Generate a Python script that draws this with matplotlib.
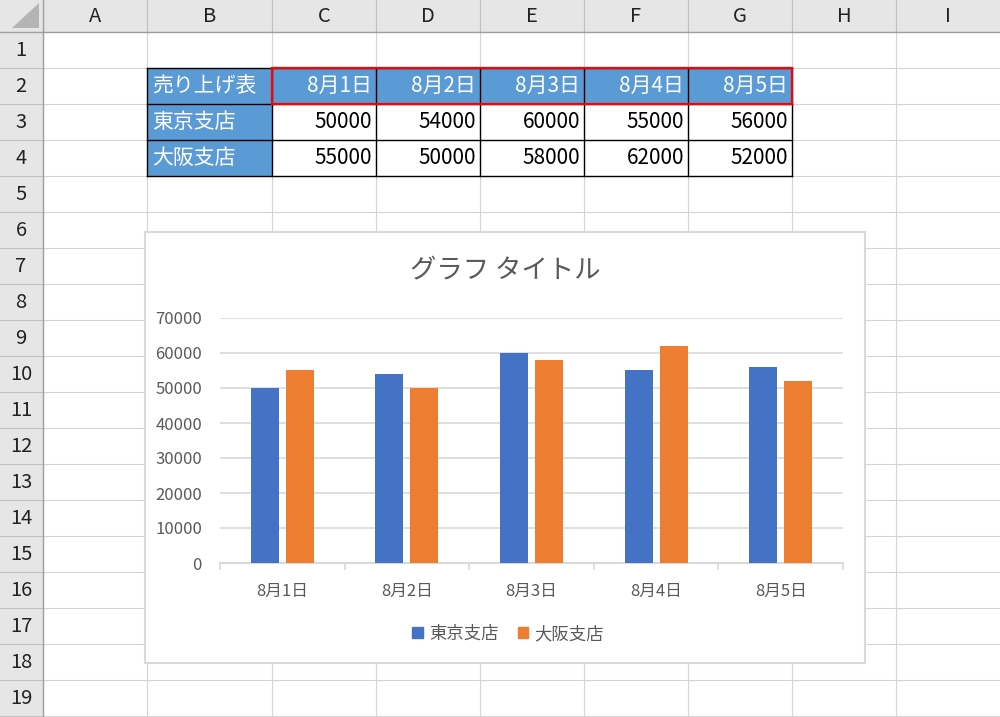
import matplotlib
matplotlib.use("Agg")
import matplotlib.pyplot as plt
from matplotlib.patches import Rectangle, Polygon, Patch

plt.rcParams['font.family'] = ['Noto Sans CJK JP', 'DejaVu Sans']

# data
dates = ['8月1日', '8月2日', '8月3日', '8月4日', '8月5日']
tokyo = [50000, 54000, 60000, 55000, 56000]
osaka = [55000, 50000, 58000, 62000, 52000]
stores = ['東京支店', '大阪支店']
table_title = '売り上げ表'
chart_title = 'グラフ タイトル'
y_ticks = [0, 10000, 20000, 30000, 40000, 50000, 60000, 70000]

col_letters = ['A', 'B', 'C', 'D', 'E', 'F', 'G', 'H', 'I']
col_edges = [43, 147, 272, 376, 480, 584, 688, 792, 896, 1000]
row_edges = [32 + 36 * i for i in range(20)]

blue = '#4472C4'
orange = '#ED7D31'
cell_blue = '#5B9BD5'
grey_txt = '#595959'

fig = plt.figure(figsize=(10, 7.17), dpi=100)
bg = fig.add_axes([0, 0, 1, 1])
bg.set_xlim(0, 1000)
bg.set_ylim(717, 0)
bg.axis('off')

# sheet grid
for x in col_edges[1:-1]:
    bg.plot([x, x], [32, 717], color='#D4D4D4', lw=0.8, zorder=1)
for y in row_edges[1:]:
    bg.plot([43, 1000], [y, y], color='#D4D4D4', lw=0.8, zorder=1)

# headers
bg.add_patch(Rectangle((0, 0), 1000, 32, fc='#E6E6E6', ec='none', zorder=2))
bg.add_patch(Rectangle((0, 0), 43, 717, fc='#E6E6E6', ec='none', zorder=2))
for x in col_edges[1:-1]:
    bg.plot([x, x], [0, 32], color='#C0C0C0', lw=0.8, zorder=3)
for y in row_edges[1:]:
    bg.plot([0, 43], [y, y], color='#C0C0C0', lw=0.8, zorder=3)
bg.plot([0, 1000], [32, 32], color='#9E9E9E', lw=1, zorder=3)
bg.plot([43, 43], [0, 717], color='#9E9E9E', lw=1, zorder=3)
bg.add_patch(Polygon([(39, 3), (39, 28), (12, 28)], fc='#B4B4B4', ec='none', zorder=3))
for i, c in enumerate(col_letters):
    bg.text((col_edges[i] + col_edges[i + 1]) / 2, 17, c, ha='center', va='center',
            fontsize=14.5, color='#222222', zorder=4)
for i in range(19):
    bg.text(21, (row_edges[i] + row_edges[i + 1]) / 2 + 1, str(i + 1), ha='center',
            va='center', fontsize=14.5, color='#222222', zorder=4)

# table
r2, r3, r4, r5 = row_edges[1], row_edges[2], row_edges[3], row_edges[4]
bg.add_patch(Rectangle((col_edges[1], r2), col_edges[7] - col_edges[1], r3 - r2,
                       fc=cell_blue, ec='none', zorder=3))
bg.add_patch(Rectangle((col_edges[1], r3), col_edges[2] - col_edges[1], r5 - r3,
                       fc=cell_blue, ec='none', zorder=3))
for y in [r2, r3, r4, r5]:
    bg.plot([col_edges[1], col_edges[7]], [y, y], color='black', lw=1, zorder=4)
for x in col_edges[1:8]:
    bg.plot([x, x], [r2, r5], color='black', lw=1, zorder=4)
bg.add_patch(Rectangle((col_edges[2], r2), col_edges[7] - col_edges[2], r3 - r2,
                       fc='none', ec='#FF0000', lw=1.6, zorder=5))

fs = 15
bg.text(col_edges[1] + 5, (r2 + r3) / 2, table_title, ha='left', va='center',
        fontsize=fs, color='white', zorder=6)
for j, s in enumerate(stores):
    bg.text(col_edges[1] + 5, (row_edges[2 + j] + row_edges[3 + j]) / 2, s,
            ha='left', va='center', fontsize=fs, color='white', zorder=6)
for i, d in enumerate(dates):
    xr = col_edges[3 + i] - 4
    bg.text(xr, (r2 + r3) / 2, d, ha='right', va='center', fontsize=fs,
            color='white', zorder=6)
    bg.text(xr, (r3 + r4) / 2, str(tokyo[i]), ha='right', va='center', fontsize=fs,
            color='black', zorder=6)
    bg.text(xr, (r4 + r5) / 2, str(osaka[i]), ha='right', va='center', fontsize=fs,
            color='black', zorder=6)

# chart area
bg.add_patch(Rectangle((145, 232), 720, 431, fc='white', ec='#D9D9D9', lw=1.5, zorder=7))
fig.text(0.505, 1 - 271 / 717, chart_title, ha='center', va='center',
         fontsize=19, color=grey_txt)

ax = fig.add_axes([0.22, 1 - 563 / 717, 0.623, (563 - 318) / 717])
x = list(range(len(dates)))
w = 0.225
ax.bar([i - 0.14 for i in x], tokyo, width=w, color=blue, zorder=3)
ax.bar([i + 0.14 for i in x], osaka, width=w, color=orange, zorder=3)
ax.set_xlim(-0.5, len(dates) - 0.5)
ax.set_ylim(0, 70000)
ax.set_yticks(y_ticks)
ax.set_yticklabels([str(v) for v in y_ticks])
ax.set_xticks(x)
ax.set_xticklabels(dates)
ax.set_xticks([i - 0.5 for i in range(len(dates) + 1)], minor=True)
ax.tick_params(axis='x', which='major', length=0, pad=14, labelsize=12, labelcolor=grey_txt)
ax.tick_params(axis='x', which='minor', length=5, width=1.2, color='#D9D9D9')
ax.tick_params(axis='y', length=0, pad=13, labelsize=12, labelcolor=grey_txt)
ax.grid(axis='y', color='#D9D9D9', lw=1.2, zorder=0)
ax.set_axisbelow(True)
for s in ['top', 'right', 'left']:
    ax.spines[s].set_visible(False)
ax.spines['bottom'].set_color('#D9D9D9')
ax.spines['bottom'].set_linewidth(1.5)
ax.patch.set_alpha(0)

handles = [Patch(color=blue), Patch(color=orange)]
fig.legend(handles, stores, loc='center', bbox_to_anchor=(0.508, 1 - 634 / 717),
           ncol=2, frameon=False, fontsize=12.5, labelcolor=grey_txt,
           handlelength=0.6, handleheight=0.6, handletextpad=0.35, columnspacing=1.1)

fig.savefig('out.png', dpi=100)
